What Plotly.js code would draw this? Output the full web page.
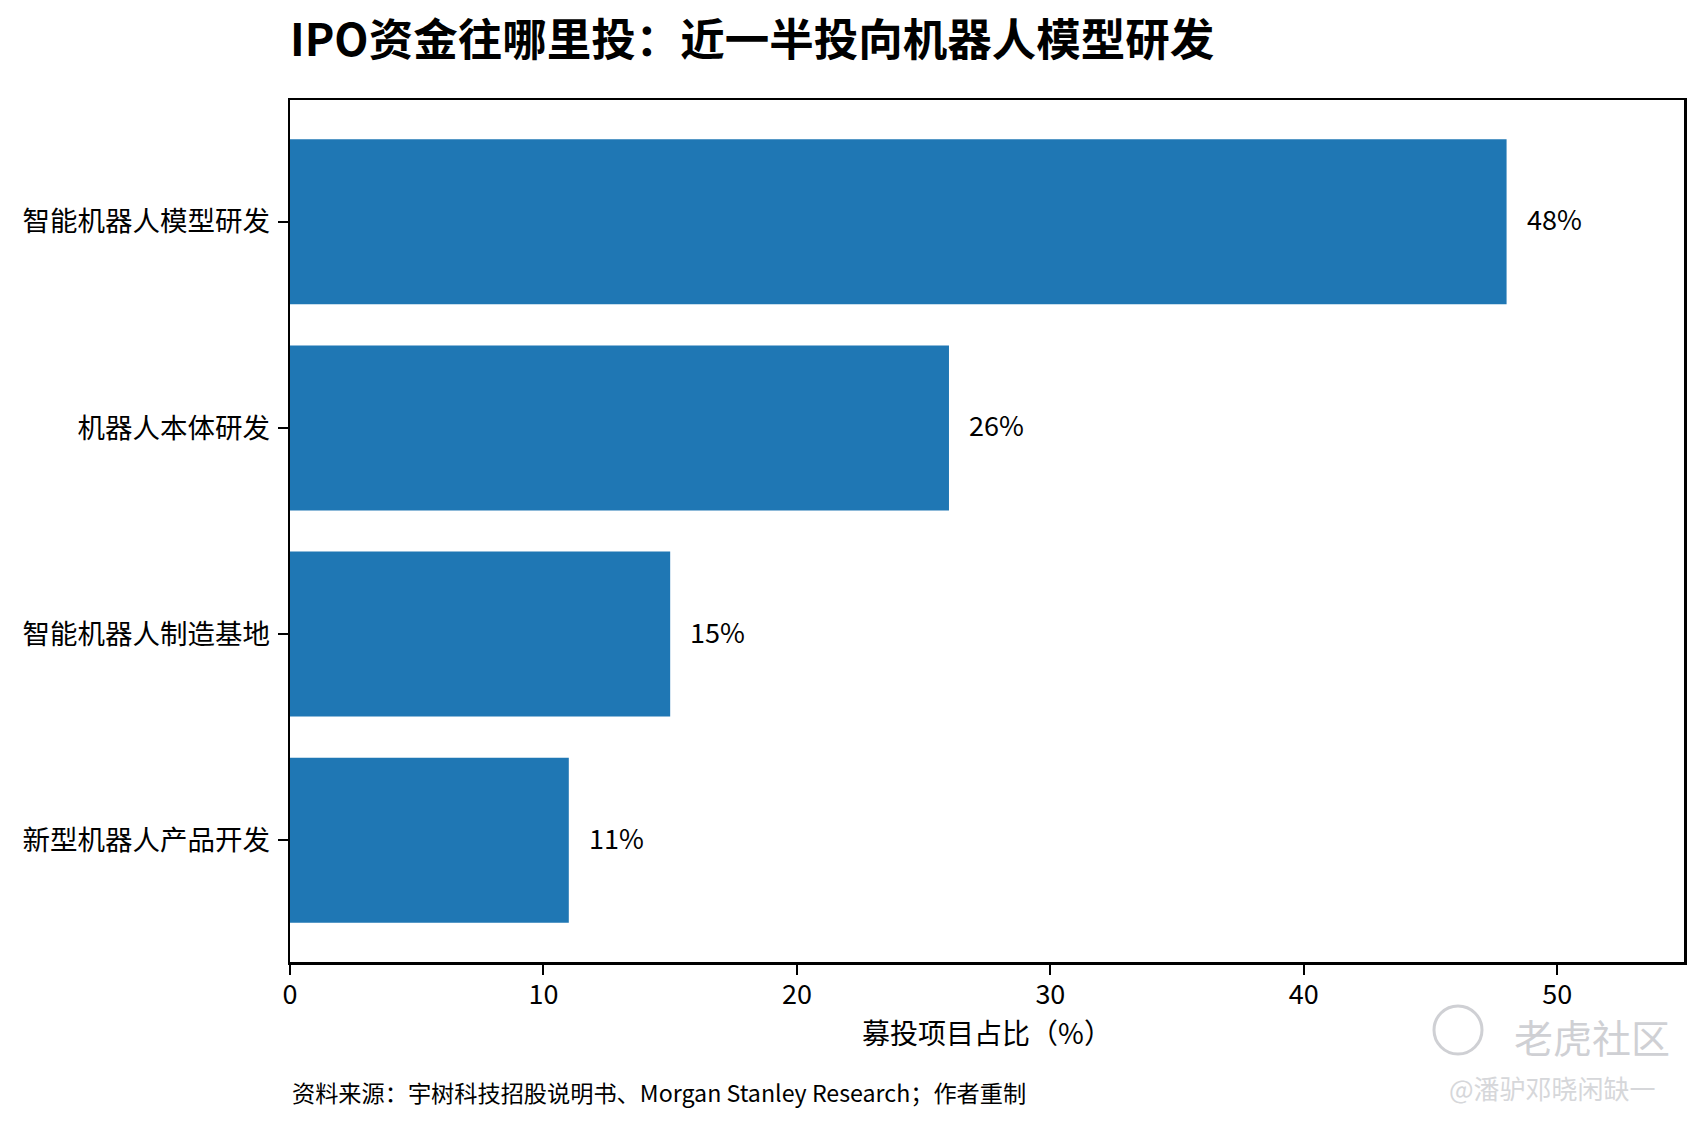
<!DOCTYPE html>
<html>
<head>
<meta charset="utf-8">
<script src="https://cdn.plot.ly/plotly-3.0.1.min.js"></script>
<style>
  html, body { margin: 0; padding: 0; background: #fff; }
  #chart { width: 1704px; height: 1125px; }
</style>
</head>
<body>
<div id="chart"></div>
<script>
// ---- data --------------------------------------------------------------------
const CATEGORIES = ['智能机器人模型研发', '机器人本体研发', '智能机器人制造基地', '新型机器人产品开发'];
const SHARES     = [48, 26, 15, 11];
const X_TICKS    = [0, 10, 20, 30, 40, 50];

const TITLE   = 'IPO资金往哪里投：近一半投向机器人模型研发';
const X_TITLE = '募投项目占比（%）';
const SOURCE  = '资料来源：宇树科技招股说明书、Morgan Stanley Research；作者重制';

const FONT = '"Noto Sans CJK SC", "Noto Sans", sans-serif';

// ---- layout helpers (pixel -> paper) -----------------------------------------
const W = 1704, H = 1125;
const M = { l: 290, r: 20, t: 100, b: 163 };
const plotW = W - M.l - M.r, plotH = H - M.t - M.b;
const px = x => (x - M.l) / plotW;
const py = y => (H - M.b - y) / plotH;

const traces = [{
  type: 'bar', orientation: 'h',
  x: SHARES, y: CATEGORIES,
  width: 0.8,
  marker: { color: '#1f77b4', line: { width: 0 } },
  hoverinfo: 'skip',
}];

// value labels just past the bar ends
const annotations = SHARES.map((v, i) => ({
  x: v, y: CATEGORIES[i], xref: 'x', yref: 'y',
  text: v + '%', showarrow: false,
  xanchor: 'left', yanchor: 'middle', xshift: 18, yshift: 3,
  font: { family: FONT, size: 27, color: '#000' },
}));

annotations.push({
  x: 0, y: py(1092), xref: 'paper', yref: 'paper',
  text: SOURCE, showarrow: false, xanchor: 'left', yanchor: 'middle',
  font: { family: FONT, size: 23.2, color: '#000' },
});

// watermark bottom right
annotations.push({
  x: px(1592), y: py(1036), xref: 'paper', yref: 'paper',
  text: '老虎社区', showarrow: false, xanchor: 'center', yanchor: 'middle',
  font: { family: FONT, size: 39, color: '#cfd0d4' },
});
annotations.push({
  x: px(1552), y: py(1087), xref: 'paper', yref: 'paper',
  text: '@潘驴邓晓闲缺一', showarrow: false, xanchor: 'center', yanchor: 'middle',
  font: { family: FONT, size: 26, color: '#d6d7da' },
});

const layout = {
  width: W, height: H, autosize: false,
  paper_bgcolor: '#fff', plot_bgcolor: '#fff',
  margin: M,
  showlegend: false,
  title: {
    text: '<b>' + TITLE + '</b>',
    xref: 'paper', x: 0, xanchor: 'left',
    yref: 'container', y: 1 - 40 / H, yanchor: 'middle',
    font: { family: FONT, size: 44.5, color: '#000' },
  },
  xaxis: {
    range: [0, 55], tickvals: X_TICKS,
    showgrid: false, zeroline: false,
    showline: true, mirror: true, linecolor: '#000', linewidth: 2.5,
    ticks: 'outside', ticklen: 10, tickwidth: 2, tickcolor: '#000',
    tickfont: { family: FONT, size: 27, color: '#000' },
    ticklabelstandoff: -3,
    title: { text: X_TITLE, standoff: 10,
             font: { family: FONT, size: 28, color: '#000' } },
  },
  yaxis: {
    type: 'category', range: [3.59, -0.59],
    showgrid: false, zeroline: false,
    showline: true, mirror: true, linecolor: '#000', linewidth: 2.5,
    ticks: 'outside', ticklen: 10, tickwidth: 2, tickcolor: '#000',
    tickfont: { family: FONT, size: 27.5, color: '#000' },
    ticklabelstandoff: 2,
  },
  shapes: [{
    type: 'circle', xref: 'paper', yref: 'paper',
    x0: px(1434), x1: px(1482), y0: py(1054), y1: py(1006),
    line: { color: '#cfd0d4', width: 3 },
  }],
  annotations,
};

Plotly.newPlot('chart', traces, layout, { displayModeBar: false, staticPlot: true });
</script>
</body>
</html>
